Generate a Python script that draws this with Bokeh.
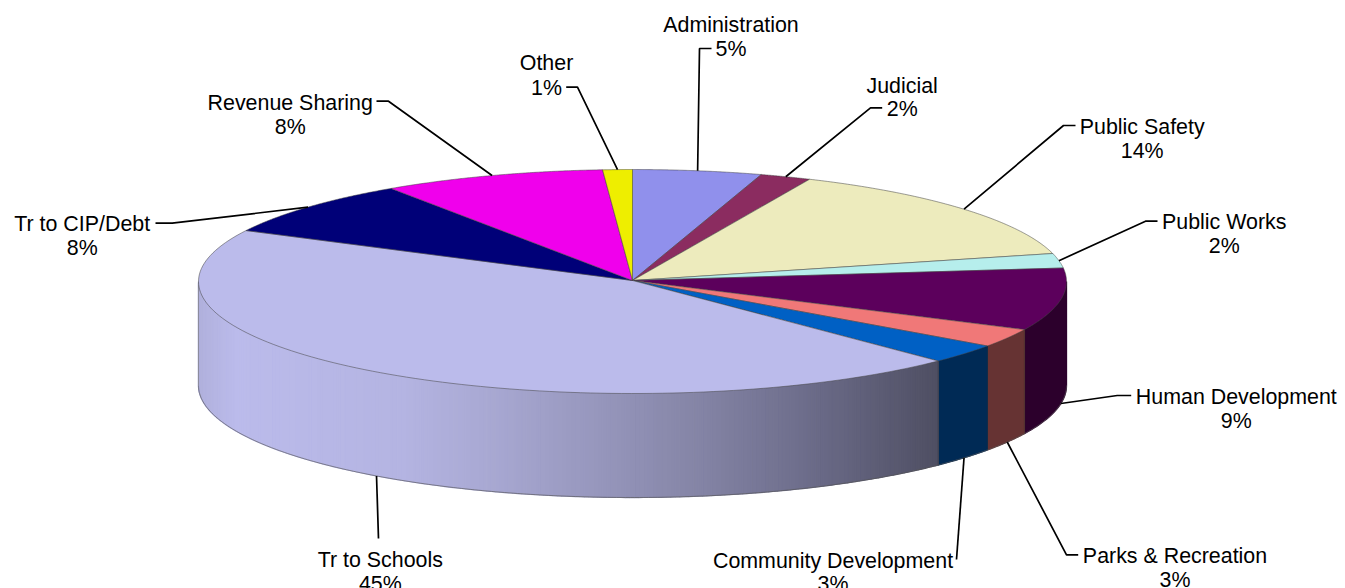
import numpy as np
from bokeh.plotting import figure
from bokeh.models import Range1d, ColumnDataSource
from bokeh.core.properties import value
from bokeh.embed import file_html
from bokeh.resources import INLINE

# Data
categories = ["Administration", "Judicial", "Public Safety", "Public Works", "Human Development",
              "Parks & Recreation", "Community Development", "Tr to Schools", "Tr to CIP/Debt",
              "Revenue Sharing", "Other"]
shares = [4.8, 1.9, 14.3, 2.1, 9.0, 2.7, 2.8, 45.0, 8.1, 8.3, 1.1]
pct_labels = ["5%", "2%", "14%", "2%", "9%", "3%", "3%", "45%", "8%", "8%", "1%"]

# Style
top_colors = ["#9090EC", "#8B2C60", "#EDEBBD", "#B6EEEC", "#5C005C", "#F07878", "#0060C4",
              "#BBBBEB", "#000078", "#F000EC", "#EEEE00"]
wall_colors = [None, None, None, None, "#2C002C", "#663333", "#002A55", None, None, None, None]
grad_x = [197, 235, 400, 490, 600, 700, 800, 941]
grad_rgb = [(176, 176, 220), (187, 187, 235), (180, 180, 226), (168, 168, 210),
            (150, 150, 188), (132, 132, 165), (110, 110, 140), (78, 78, 98)]

CX, CY, RX, RY, DEPTH = 632.0, 281.0, 434.0, 112.0, 104.0
# label centre, name baseline, pct baseline
label_x = [730.5, 901.7, 1141.7, 1223.7, 1235.8, 1174.5, 832.5, 379.8, 81.7, 289.7, 546]
label_y1 = [24, 85, 126, 221, 396, 555, 560, 559, 223, 102, 62]
label_y2 = [48, 108, 150, 245, 420, 579, 583, 583, 247, 126, 87]
# leader elbow and end
elbow_x = [699, 870, 1063, 1145, 1116.7, 1066, 956, 378, 171.7, 388, 577]
elbow_y = [48, 107.3, 125, 220.7, 395, 554.3, 559, 538, 222.7, 100.7, 86.7]
end_x = [711, 881.7, 1075, 1157, 1130.7, 1077.7, 956, 378, 155, 376, 565.7]
end_y = [48, 107.3, 125, 220.7, 395, 554.3, 559, 538, 222.7, 100.7, 86.7]

def ex(t): return CX + RX * np.sin(t)
def ey(t): return CY - RY * np.cos(t)

edges = np.concatenate([[0], np.cumsum(shares)]) / sum(shares) * 2 * np.pi

p = figure(width=1345, height=588, output_backend="svg", toolbar_location=None,
           x_range=Range1d(0, 1345), y_range=Range1d(588, 0),
           min_border=0, outline_line_color=None)
p.axis.visible = False
p.grid.visible = False
p.background_fill_color = "white"
p.border_fill_color = "white"

# Walls
strip_x, strip_y, strip_c = [], [], []
vis_a, vis_b = np.pi / 2, 3 * np.pi / 2
for i in range(len(shares)):
    a, b = max(edges[i], vis_a), min(edges[i + 1], vis_b)
    if a >= b:
        continue
    if wall_colors[i] is not None:
        t = np.linspace(a, b, 40)
        strip_x.append(list(ex(t)) + list(ex(t[::-1])))
        strip_y.append(list(ey(t)) + list(ey(t[::-1]) + DEPTH))
        strip_c.append(wall_colors[i])
    else:
        n = int((b - a) / np.radians(0.6))
        ts = np.linspace(a, b, n + 1)
        for u, v in zip(ts[:-1], ts[1:]):
            mx = ex((u + v) / 2)
            rgb = [np.interp(mx, grad_x, [c[k] for c in grad_rgb]) for k in range(3)]
            col = "#%02x%02x%02x" % tuple(int(round(c)) for c in rgb)
            strip_x.append([ex(u), ex(v), ex(v), ex(u)])
            strip_y.append([ey(u), ey(v), ey(v) + DEPTH, ey(u) + DEPTH])
            strip_c.append(col)
p.patches(strip_x, strip_y, fill_color=strip_c, line_color=strip_c, line_width=1.3)

# Wall outlines
tb = np.linspace(vis_a, vis_b, 300)
p.line(list(ex(tb)), list(ey(tb) + DEPTH), line_color="#555555", line_width=0.8, line_alpha=0.8)
for e in edges[1:]:
    if vis_a < e < vis_b:
        p.line([ex(e), ex(e)], [ey(e), ey(e) + DEPTH], line_color="#333333", line_width=0.7, line_alpha=0.6)
p.line([ex(vis_b)] * 2, [ey(vis_b), ey(vis_b) + DEPTH], line_color="#777777", line_width=0.8, line_alpha=0.8)

# Top
xs, ys = [], []
for i in range(len(shares)):
    t = np.linspace(edges[i], edges[i + 1], 120)
    xs.append([CX] + list(ex(t)))
    ys.append([CY - 1] + list(ey(t)))
p.patches(xs, ys, fill_color=top_colors, line_color="#444444", line_width=0.8, line_alpha=0.65)

# Leaders start on the rim at the middle of each slice
mids = (edges[:-1] + edges[1:]) / 2
lx, ly = [], []
for i, m in enumerate(mids):
    front = np.pi / 2 < m < 3 * np.pi / 2
    sy = ey(m) + (DEPTH if front else 0)
    lx.append([ex(m), elbow_x[i], end_x[i]])
    ly.append([sy, elbow_y[i], end_y[i]])
p.multi_line(lx, ly, line_color="black", line_width=1.7)

src = ColumnDataSource(dict(x=label_x, y1=label_y1, y2=label_y2, name=categories, pct=pct_labels))
for yc, tc in (("y1", "name"), ("y2", "pct")):
    p.text(x="x", y=yc, text=tc, source=src, text_font=value("Liberation Sans"),
           text_font_size="21.4px", text_color="#000000", text_align="center", text_baseline="alphabetic")

open("out.html", "w").write(file_html(p, INLINE))
